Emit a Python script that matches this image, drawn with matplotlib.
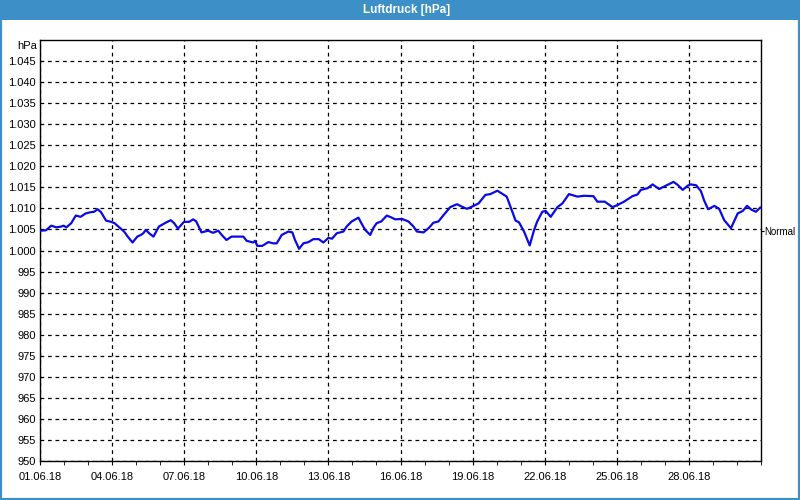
import numpy as np
import matplotlib
matplotlib.use("Agg")
import matplotlib.pyplot as plt
import matplotlib.dates as mdates
from matplotlib.patches import Rectangle
from matplotlib.ticker import FuncFormatter

FRAME = "#3c8fc7"
LINE = "#0a0ae6"

# hours since 01.06.18 00:00 expressed as fractional days
days = [0, 0.25, 0.47, 0.68, 0.89, 0.98, 1.1, 1.3, 1.49, 1.69,
        1.9, 2.11, 2.25, 2.4, 2.54, 2.75, 2.96, 3.1, 3.3, 3.5,
        3.65, 3.85, 4.05, 4.2, 4.3, 4.4, 4.54, 4.72, 4.95, 5.23,
        5.44, 5.58, 5.74, 5.99, 6.2, 6.375, 6.5, 6.72, 7.0, 7.2,
        7.42, 7.56, 7.76, 7.97, 8.46, 8.6, 8.87, 8.95, 9.04, 9.25,
        9.5, 9.71, 9.85, 10.06, 10.33, 10.5, 10.61, 10.78, 10.96, 11.17,
        11.375, 11.6, 11.79, 12.0, 12.15, 12.35, 12.49, 12.625, 12.76, 12.97,
        13.25, 13.39, 13.53, 13.74, 13.875, 14.01, 14.2, 14.43, 14.6, 14.78,
        15.06, 15.33, 15.54, 15.68, 15.96, 16.17, 16.37, 16.58, 16.79, 17.07,
        17.35, 17.56, 17.76, 17.97, 18.25, 18.53, 18.74, 19.03, 19.17, 19.42,
        19.58, 19.79, 19.93, 20.14, 20.375, 20.56, 20.69, 20.9, 21.04, 21.25,
        21.53, 21.74, 22.01, 22.36, 22.64, 23.03, 23.19, 23.5, 23.82, 24.03,
        24.3, 24.65, 24.86, 25.0, 25.28, 25.49, 25.76, 26.04, 26.36, 26.53,
        26.74, 26.95, 27.08, 27.3, 27.5, 27.64, 27.8, 28.06, 28.26, 28.47,
        28.75, 29.03, 29.24, 29.42, 29.6, 29.79, 29.97]
pressure = [1004.7, 1004.8, 1005.9, 1005.5, 1005.7, 1005.9, 1005.5, 1006.5, 1008.3, 1008.0,
            1008.8, 1009.1, 1009.2, 1009.8, 1009.1, 1007.1, 1006.8, 1006.5, 1005.5, 1004.5,
            1003.3, 1001.9, 1003.3, 1003.7, 1004.1, 1004.9, 1004.1, 1003.3, 1005.7, 1006.6,
            1007.2, 1006.5, 1005.2, 1006.8, 1006.8, 1007.4, 1006.9, 1004.3, 1004.7, 1004.2,
            1004.7, 1003.7, 1002.5, 1003.3, 1003.3, 1002.3, 1001.9, 1002.3, 1001.1, 1001.1,
            1002.0, 1001.7, 1001.7, 1003.7, 1004.5, 1004.3, 1002.5, 1000.4, 1001.7, 1002.0,
            1002.7, 1002.7, 1001.9, 1003.0, 1002.8, 1004.1, 1004.3, 1004.5, 1005.7, 1006.9,
            1007.8, 1006.3, 1004.9, 1003.7, 1005.4, 1006.5, 1006.9, 1008.3, 1007.9, 1007.4,
            1007.5, 1006.9, 1005.7, 1004.5, 1004.3, 1005.3, 1006.6, 1006.9, 1008.4, 1010.3,
            1011.0, 1010.4, 1009.9, 1010.4, 1011.2, 1013.2, 1013.4, 1014.2, 1013.7, 1012.8,
            1010.3, 1007.1, 1006.7, 1004.5, 1001.2, 1004.9, 1006.9, 1009.2, 1009.4, 1008.0,
            1010.3, 1011.2, 1013.4, 1012.8, 1013.0, 1012.9, 1011.6, 1011.6, 1010.3, 1010.8,
            1011.6, 1012.9, 1013.3, 1014.4, 1014.8, 1015.7, 1014.6, 1015.4, 1016.3, 1015.6,
            1014.4, 1015.4, 1015.7, 1015.5, 1014.1, 1011.8, 1009.8, 1010.6, 1009.9, 1007.2,
            1005.3, 1008.8, 1009.4, 1010.6, 1009.7, 1009.2, 1010.2]
normal_level = 1004.6

start = np.datetime64("2018-06-01T00:00")
times = start + (np.array(days) * 24 * 60).astype("timedelta64[m]")
major = np.arange(start, np.datetime64("2018-06-29"), np.timedelta64(3, "D"))
minor = np.arange(start, np.datetime64("2018-07-02"), np.timedelta64(1, "D"))

plt.rcParams["font.family"] = ["Liberation Sans", "DejaVu Sans"]
plt.rcParams["font.size"] = 8

fig = plt.figure(figsize=(8, 5), dpi=100, facecolor="white")
# window frame and title bar
fig.patches.append(Rectangle((0, 0.96), 1, 0.04, transform=fig.transFigure,
                             facecolor=FRAME, edgecolor="none", zorder=0))
fig.patches.append(Rectangle((0, 0), 1, 1, transform=fig.transFigure,
                             facecolor="none", edgecolor=FRAME, linewidth=3, zorder=0))
fig.text(0.508, 0.979, "Luftdruck [hPa]", color="white", fontsize=8.5,
         fontweight="bold", ha="center", va="center")

ax = fig.add_axes([0.05, 0.078, 0.90125, 0.842])
ax.plot(times, pressure, color=LINE, linewidth=1.6, zorder=3)

ax.set_xlim(start, np.datetime64("2018-07-01T00:00"))
ax.set_ylim(950, 1050)
ax.set_yticks(np.arange(950, 1046, 5))
ax.yaxis.set_major_formatter(FuncFormatter(
    lambda v, p: f"{v / 1000:.3f}" if v >= 1000 else f"{v:.0f}"))
ax.set_xticks(major)
ax.set_xticks(minor, minor=True)
ax.xaxis.set_major_formatter(mdates.DateFormatter("%d.%m.%y"))

ax.grid(True, which="major", color="black", linestyle=(0, (3, 3)), linewidth=0.9)
ax.tick_params(axis="y", length=0, pad=3, labelsize=8)
ax.tick_params(axis="x", which="both", length=3, direction="out", pad=5, labelsize=8)
for spine in ax.spines.values():
    spine.set_color("black")
    spine.set_linewidth(1)

ax.text(-0.004, 1048.6, "hPa", transform=ax.get_yaxis_transform(),
        ha="right", va="center", fontsize=8)

# "Normal" marker on the right side
rax = ax.twinx()
rax.set_ylim(ax.get_ylim())
rax.set_yticks([normal_level])
rax.set_yticklabels(["Normal"])
rax.tick_params(axis="y", length=2, pad=0.5, labelsize=7)
for spine in rax.spines.values():
    spine.set_visible(False)

fig.savefig("out.png", dpi=100, facecolor="white")
